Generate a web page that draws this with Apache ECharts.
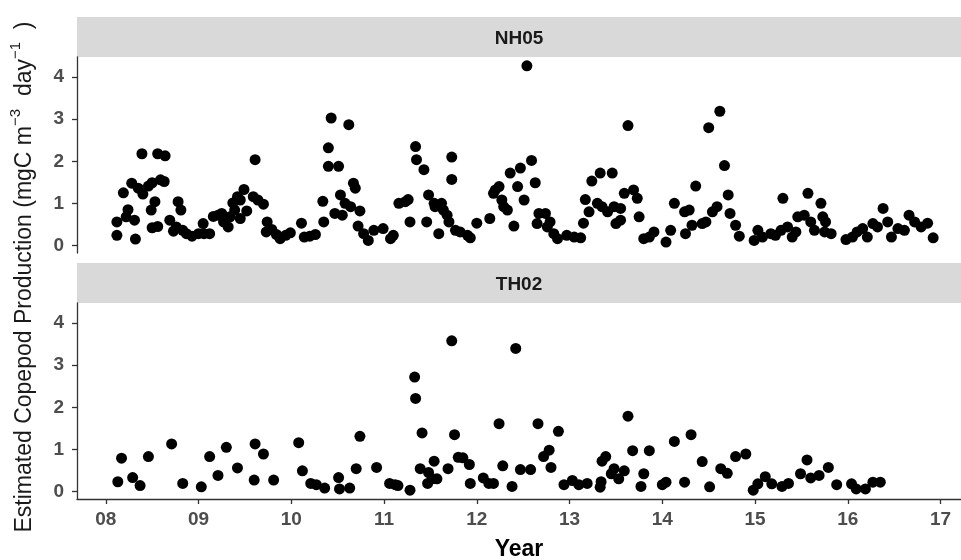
<!DOCTYPE html>
<html lang="en">

<head>
    <meta charset="UTF-8">
    <title>copepod production</title>
    <script type="text/javascript" src="https://cdn.jsdelivr.net/npm/echarts@6/dist/echarts.min.js"></script>
    <style>
        body { margin: 0; background: #fff; }
    </style>
</head>

<body>
    <div id="main" style="width: 961px; height: 560px;"></div>

    <script type="text/javascript">
        // panel names
        var panels = ['NH05', 'TH02'];

        // x tick values (year 20xx) and labels
        var yearTicks = [8, 9, 10, 11, 12, 13, 14, 15, 16, 17];
        var yearLabels = ['08', '09', '10', '11', '12', '13', '14', '15', '16', '17'];
        var valueTicks = [0, 1, 2, 3, 4];

        // NH05
        var nh05Year = [8.12, 8.12, 8.19, 8.24, 8.22, 8.31, 8.32, 8.28, 8.39, 8.35, 8.40, 8.46, 8.50, 8.53, 8.49, 8.50, 8.56, 8.56, 8.64, 8.59,
            8.63, 8.69, 8.73, 8.78, 8.81, 8.76, 8.83, 8.87, 8.93, 9.00, 9.05, 9.06, 9.12, 9.16, 9.21, 9.25, 9.27, 9.32, 9.34, 9.37,
            9.39, 9.42, 9.45, 9.49, 9.52, 9.45, 9.61, 9.59, 9.64, 9.70, 9.74, 9.73, 9.79, 9.84, 9.88, 9.94, 9.99, 10.11, 10.14, 10.20,
            10.26, 10.34, 10.35, 10.40, 10.40, 10.43, 10.62, 10.51, 10.67, 10.69, 10.53, 10.58, 10.64, 10.74, 10.47, 10.55, 10.72, 10.78, 10.83, 10.89,
            10.99, 11.07, 11.10, 11.16, 11.23, 11.26, 11.28, 11.34, 11.35, 11.43, 11.46, 11.48, 11.54, 11.55, 11.59, 11.62, 11.64, 11.68, 11.70, 11.73,
            11.73, 11.77, 11.82, 11.90, 11.93, 12.00, 12.14, 12.20, 12.24, 12.18, 12.27, 12.29, 12.33, 12.36, 12.47, 12.44, 12.51, 12.40, 12.54, 12.59,
            12.63, 12.67, 12.65, 12.74, 12.79, 12.76, 12.83, 12.87, 12.97, 13.05, 13.12, 13.15, 13.17, 13.21, 13.24, 13.33, 13.46, 13.30, 13.35, 13.41,
            13.48, 13.55, 13.50, 13.55, 13.59, 13.69, 13.63, 13.73, 13.75, 13.80, 13.86, 13.91, 14.04, 14.09, 14.13, 14.24, 14.29, 14.25, 14.32, 14.36,
            14.43, 14.47, 14.50, 14.54, 14.59, 14.62, 14.67, 14.71, 14.73, 14.79, 14.83, 14.99, 15.03, 15.08, 15.17, 15.22, 15.30, 15.28, 15.35, 15.40,
            15.44, 15.46, 15.53, 15.57, 15.60, 15.64, 15.71, 15.73, 15.76, 15.82, 15.75, 15.98, 16.05, 16.10, 16.16, 16.21, 16.27, 16.32, 16.38, 16.43,
            16.47, 16.54, 16.61, 16.66, 16.72, 16.79, 16.86, 16.92];
        var nh05Value = [0.56, 0.24, 1.25, 0.85, 0.68, 0.60, 0.15, 1.48, 2.18, 1.36, 1.22, 1.41, 1.49, 1.04, 0.84, 0.42, 0.45, 2.18, 2.13, 1.56,
            1.52, 0.60, 0.34, 1.04, 0.84, 0.44, 0.36, 0.28, 0.22, 0.28, 0.52, 0.28, 0.28, 0.69, 0.72, 0.76, 0.56, 0.44, 0.68, 1.01,
            0.84, 1.16, 1.08, 1.33, 0.82, 0.64, 2.04, 1.16, 1.08, 0.98, 0.56, 0.32, 0.38, 0.26, 0.16, 0.24, 0.30, 0.53, 0.20, 0.22,
            0.26, 1.05, 0.56, 2.32, 1.88, 3.03, 2.87, 1.88, 1.48, 1.36, 1.20, 1.00, 0.92, 0.82, 0.76, 0.72, 0.46, 0.28, 0.12, 0.36,
            0.40, 0.16, 0.24, 1.00, 1.04, 1.09, 0.56, 2.35, 2.04, 1.80, 0.56, 1.20, 1.00, 0.92, 0.28, 1.00, 0.84, 0.72, 0.56, 2.10,
            1.57, 0.36, 0.32, 0.24, 0.18, 0.53, 0.64, 1.32, 1.40, 1.24, 1.08, 0.92, 0.84, 1.72, 1.84, 1.40, 1.08, 0.46, 4.27, 2.02,
            1.49, 0.76, 0.52, 0.76, 0.56, 0.44, 0.28, 0.16, 0.24, 0.20, 0.18, 0.53, 1.09, 0.80, 1.53, 1.72, 1.72, 1.00, 0.92, 0.80,
            0.92, 0.88, 0.52, 0.60, 1.24, 1.32, 2.85, 1.12, 0.68, 0.16, 0.20, 0.32, 0.08, 0.36, 1.00, 0.80, 0.84, 0.28, 0.48, 1.41,
            0.52, 0.56, 2.80, 0.80, 0.92, 3.19, 1.90, 1.20, 0.76, 0.48, 0.22, 0.12, 0.36, 0.20, 0.28, 0.24, 1.12, 0.36, 0.44, 0.20,
            0.32, 0.68, 0.72, 1.24, 0.56, 0.36, 1.00, 0.68, 0.56, 0.28, 0.32, 0.14, 0.20, 0.32, 0.40, 0.20, 0.52, 0.44, 0.88, 0.56,
            0.20, 0.40, 0.36, 0.72, 0.56, 0.44, 0.53, 0.18];

        // TH02
        var th02Year = [8.13, 8.17, 8.29, 8.37, 8.46, 8.71, 8.83, 9.03, 9.12, 9.21, 9.30, 9.42, 9.60, 9.61, 9.70, 9.81, 10.08, 10.12, 10.21, 10.27,
            10.36, 10.51, 10.52, 10.63, 10.70, 10.74, 10.92, 11.06, 11.12, 11.15, 11.28, 11.33, 11.34, 11.41, 11.39, 11.48, 11.47, 11.54, 11.52, 11.57,
            11.69, 11.73, 11.76, 11.80, 11.85, 11.92, 11.93, 12.07, 12.13, 12.18, 12.24, 12.28, 12.38, 12.42, 12.47, 12.58, 12.66, 12.72, 12.78, 12.80,
            12.88, 12.94, 13.03, 13.10, 13.19, 13.33, 13.34, 13.35, 13.39, 13.45, 13.48, 13.53, 13.59, 13.63, 13.68, 13.77, 13.80, 13.86, 14.00, 14.04,
            14.13, 14.24, 14.31, 14.43, 14.51, 14.63, 14.70, 14.79, 14.90, 14.98, 15.03, 15.11, 15.18, 15.29, 15.36, 15.49, 15.60, 15.69, 15.56, 15.79,
            15.88, 16.04, 16.09, 16.19, 16.27, 16.35];
        var th02Value = [0.23, 0.79, 0.33, 0.14, 0.83, 1.13, 0.19, 0.11, 0.83, 0.38, 1.05, 0.56, 0.27, 1.13, 0.89, 0.27, 1.16, 0.49, 0.19, 0.16,
            0.08, 0.33, 0.06, 0.08, 0.54, 1.31, 0.57, 0.19, 0.16, 0.14, 0.03, 2.72, 2.21, 1.39, 0.54, 0.45, 0.19, 0.72, 0.30, 0.30,
            0.54, 3.58, 1.35, 0.81, 0.80, 0.64, 0.19, 0.32, 0.19, 0.19, 1.61, 0.61, 0.12, 3.40, 0.52, 0.52, 1.61, 0.83, 0.98, 0.57,
            1.43, 0.16, 0.26, 0.16, 0.19, 0.10, 0.23, 0.72, 0.83, 0.42, 0.54, 0.30, 0.49, 1.79, 0.97, 0.12, 0.42, 0.97, 0.16, 0.22,
            1.19, 0.22, 1.35, 0.71, 0.11, 0.54, 0.43, 0.83, 0.89, 0.03, 0.18, 0.35, 0.18, 0.12, 0.19, 0.42, 0.32, 0.38, 0.75, 0.57,
            0.16, 0.18, 0.06, 0.06, 0.22, 0.22];

        function pairs(xs, ys) {
            return xs.map(function (x, i) { return [x, ys[i]]; });
        }

        var labelColor = '#4d4d4d';
        var lineColor = '#333';
        var tops = [57, 303];
        var stripTops = [17, 263];

        var xAxes = [], yAxes = [], grids = [], series = [], graphics = [];
        [0, 1].forEach(function (i) {
            var bottomPanel = i === 1;
            grids.push({ left: 77, right: 0, top: tops[i], height: 196, outerBoundsMode: 'none', containLabel: false });
            xAxes.push({
                gridIndex: i,
                type: 'value',
                min: 7.69,
                max: 17.22,
                show: bottomPanel,
                name: bottomPanel ? 'Year' : '',
                nameLocation: 'middle',
                nameGap: 39,
                nameTextStyle: { fontSize: 23, fontWeight: 'bold', color: '#000', fontFamily: 'Liberation Sans' },
                axisLine: { show: bottomPanel, onZero: false, lineStyle: { color: lineColor, width: 1.3 } },
                axisTick: { show: bottomPanel, customValues: yearTicks, length: 5, lineStyle: { color: lineColor, width: 1.3 } },
                axisLabel: {
                    show: bottomPanel,
                    customValues: yearTicks,
                    margin: 11,
                    fontSize: 19,
                    fontWeight: 'bold',
                    color: labelColor,
                    fontFamily: 'Liberation Sans',
                    formatter: function (v) { return yearLabels[yearTicks.indexOf(Math.round(v))]; }
                },
                splitLine: { show: false }
            });
            yAxes.push({
                gridIndex: i,
                type: 'value',
                min: -0.18,
                max: 4.48,
                axisLine: { show: true, onZero: false, lineStyle: { color: lineColor, width: 1.3 } },
                axisTick: { show: true, customValues: valueTicks, length: 5, lineStyle: { color: lineColor, width: 1.3 } },
                axisLabel: {
                    customValues: valueTicks,
                    margin: 13,
                    fontSize: 19,
                    fontWeight: 'bold',
                    color: labelColor,
                    fontFamily: 'Liberation Sans'
                },
                splitLine: { show: false }
            });
            series.push({
                name: panels[i],
                type: 'scatter',
                xAxisIndex: i,
                yAxisIndex: i,
                symbol: 'circle',
                symbolSize: 11,
                itemStyle: { color: '#000', opacity: 1 },
                data: i === 0 ? pairs(nh05Year, nh05Value) : pairs(th02Year, th02Value)
            });
            // facet strip
            graphics.push({
                type: 'rect',
                shape: { x: 77, y: stripTops[i], width: 884, height: 40 },
                style: { fill: '#d9d9d9' },
                silent: true
            });
            graphics.push({
                type: 'text',
                x: 519,
                y: stripTops[i] + 22,
                style: {
                    text: panels[i],
                    fill: '#1a1a1a',
                    font: 'bold 19px "Liberation Sans"',
                    textAlign: 'center',
                    textVerticalAlign: 'middle'
                }
            });
        });

        // y axis title shared by both panels
        graphics.push({
            type: 'text',
            x: 22,
            y: 277,
            rotation: Math.PI / 2,
            style: {
                text: '{n|Estimated Copepod Production (mgC m}{s|−3}{n|  day}{s|−1}{n|  )}',
                textAlign: 'center',
                textVerticalAlign: 'middle',
                rich: {
                    n: { fontSize: 23, fontFamily: 'Liberation Sans', fill: '#1a1a1a', lineHeight: 28, verticalAlign: 'bottom' },
                    s: { fontSize: 15, fontFamily: 'Liberation Sans', fill: '#1a1a1a', lineHeight: 15, verticalAlign: 'top' }
                }
            }
        });

        var myChart = echarts.init(document.getElementById('main'));
        myChart.setOption({
            animation: false,
            backgroundColor: '#fff',
            grid: grids,
            xAxis: xAxes,
            yAxis: yAxes,
            series: series,
            graphic: graphics
        });
    </script>

</body>

</html>
